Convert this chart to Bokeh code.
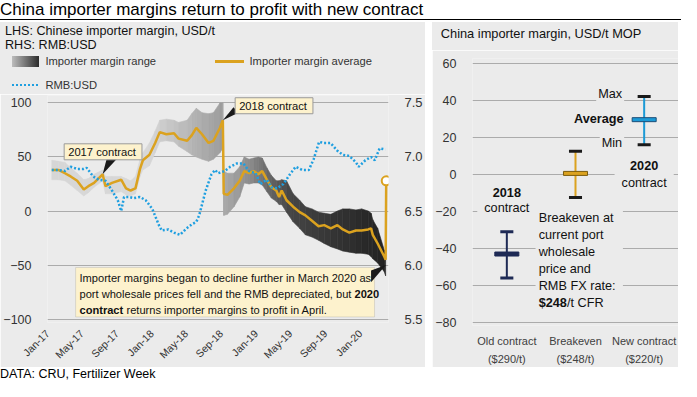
import math
import numpy as np
import pandas as pd
from bokeh.plotting import figure
from bokeh.layouts import row, column
from bokeh.models import (Range1d, LinearAxis, FixedTicker, DatetimeTickFormatter, Label, Div,
                          PolyAnnotation, BoxAnnotation, FactorRange, PrintfTickFormatter, Spacer)
from bokeh.embed import file_html
from bokeh.resources import INLINE

# ---------------- data: left chart ----------------
avg_dates = ["2017-01-16", "2017-02-08", "2017-03-03", "2017-03-23", "2017-04-15", "2017-05-08",
             "2017-05-24", "2017-06-13", "2017-07-13", "2017-07-23", "2017-08-15", "2017-09-16",
             "2017-10-03", "2017-10-19", "2017-11-05", "2017-11-21", "2017-12-01", "2017-12-24",
             "2018-01-13", "2018-01-29", "2018-02-21", "2018-03-20", "2018-04-05", "2018-05-05",
             "2018-05-21", "2018-06-06", "2018-06-26", "2018-07-19", "2018-08-05", "2018-08-28",
             "2018-09-07", "2018-09-10", "2018-09-23", "2018-10-16", "2018-11-05", "2018-11-21",
             "2018-12-08", "2018-12-24",
             "2019-01-09", "2019-01-23", "2019-02-08", "2019-02-24", "2019-03-13", "2019-03-23",
             "2019-04-01", "2019-04-18", "2019-05-11", "2019-06-03", "2019-06-23", "2019-07-16",
             "2019-08-08", "2019-08-28", "2019-09-20", "2019-10-13", "2019-11-01", "2019-11-24",
             "2019-12-17",
             "2020-01-06", "2020-01-29", "2020-02-08", "2020-02-14", "2020-03-02", "2020-03-25",
             "2020-03-30"]
avg_vals = [38, 38, 35, 32, 28, 20, 23, 26, 34, 23, 26, 29, 21, 19, 21, 39, 47, 52,
            63, 73, 71, 72, 67, 65, 70, 77, 71, 63, 65, 77, 84, 16, 15, 21, 28, 37, 35, 37,
            34, 37, 29, 22, 19, 13, 19, 10, 4, -1, -4, -9, -14, -13, -16, -13, -17, -20, -18,
            -18, -17, -16, -22, -30, -42, -45]
range_lo = [29, 29, 28, 24, 19, 14, 17, 22, 28, 16, 16, 18, 15, 14, 16, 32, 38, 42,
            54, 64, 65, 64, 60, 55, 52, 50, 48, 46, 48, 54, 58, -4, -3, 4, 13, 26, 25, 26,
            26, 24, 18, 12, 9, 6, 6, -1, -10, -16, -22, -24, -27, -30, -33, -35, -37, -38, -39,
            -39, -40, -42, -44, -48, -56, -60]
range_hi = [47, 46, 45, 40, 35, 29, 30, 34, 38, 32, 32, 32, 30, 28, 32, 48, 54, 63,
            74, 84, 85, 84, 82, 84, 90, 95, 91, 90, 91, 100, 100, 37, 35, 35, 41, 50, 48, 49,
            50, 49, 40, 33, 28, 28, 29, 28, 16, 10, 4, 2, -1, -2, -3, 0, 2, 2, 1,
            2, 0, -2, -8, -16, -36, -40]
apr_date = "2020-04-01"
apr_val = 28

rmb_dates = ["2017-01-16", "2017-02-08", "2017-03-03", "2017-03-23", "2017-04-15", "2017-05-08",
             "2017-05-18", "2017-06-10", "2017-06-29", "2017-07-23", "2017-08-15", "2017-09-04",
             "2017-09-16", "2017-09-26", "2017-10-13", "2017-10-29", "2017-11-21", "2017-12-11",
             "2018-01-03", "2018-01-26", "2018-02-05", "2018-02-28", "2018-03-20", "2018-04-10",
             "2018-05-03", "2018-05-23", "2018-06-06", "2018-06-16", "2018-07-09", "2018-07-29",
             "2018-08-11", "2018-08-21", "2018-09-13", "2018-10-03", "2018-10-26", "2018-11-18",
             "2018-12-08", "2018-12-31",
             "2019-01-16", "2019-02-08", "2019-02-24", "2019-03-15", "2019-04-07", "2019-04-30",
             "2019-05-20", "2019-06-12", "2019-07-05", "2019-07-22", "2019-08-10", "2019-08-27",
             "2019-09-19", "2019-10-12", "2019-11-01", "2019-11-24", "2019-12-17", "2019-12-27",
             "2020-01-19", "2020-02-08", "2020-02-21", "2020-03-09", "2020-03-29"]
rmb_vals = [6.88, 6.88, 6.87, 6.91, 6.89, 6.89, 6.90, 6.82, 6.79, 6.78, 6.69, 6.60,
            6.50, 6.63, 6.63, 6.62, 6.63, 6.60,
            6.52, 6.37, 6.32, 6.33, 6.30, 6.28, 6.34, 6.38, 6.40, 6.46, 6.69, 6.84,
            6.88, 6.85, 6.87, 6.91, 6.94, 6.94, 6.87, 6.85,
            6.75, 6.79, 6.72, 6.71, 6.75, 6.84, 6.91, 6.88, 6.88, 6.98, 7.14, 7.13,
            7.13, 7.06, 7.02, 7.01, 6.95, 6.91,
            6.97, 7.00, 6.97, 7.08, 7.07]

x_tick_dates = ["2017-01-01", "2017-05-01", "2017-09-01", "2018-01-01", "2018-05-01",
                "2018-09-01", "2019-01-01", "2019-05-01", "2019-09-01", "2020-01-01"]
left_ticks = [-100, -50, 0, 50, 100]
right_ticks = [5.5, 6.0, 6.5, 7.0, 7.5]

# ---------------- data: right chart ----------------
cats = ["Old contract", "Breakeven", "New contract"]
cat_prices = ["($290/t)", "($248/t)", "($220/t)"]
mins = [-56, -12.5, 16]
avgs = [-43, 0.5, 29.5]
maxs = [-31, 12.5, 42]
r_ticks = [-80, -60, -40, -20, 0, 20, 40, 60]

# ---------------- styles ----------------
FONT = "Liberation Sans"
BG = "#ebebeb"
GRID = "#ababab"
GOLD = "#dba21f"
BLUE = "#1f9fe0"
NAVY = "#1e2a55"
NEWBLUE = "#1c9ad6"
TXT = "#111111"
TICK = "#333333"
CALLOUT = "#fdf2cd"
CALLOUT_LINE = "#9a9a9a"
BLACK = "#1a1a1a"


def ms(d):
    return pd.Timestamp(d).value / 1e6


def grey(g):
    g = int(round(g))
    return "#%02x%02x%02x" % (g, g, g)


BAND_STOPS = [("2017-01-01", 214), ("2017-12-20", 216), ("2018-09-08", 156), ("2018-09-09", 172),
              ("2018-12-15", 138), ("2019-02-20", 100), ("2019-05-01", 70), ("2019-10-01", 52),
              ("2020-04-01", 34)]
stop_t = [ms(d) for d, _ in BAND_STOPS]
stop_g = [g for _, g in BAND_STOPS]

# ---------------- geometry (page px) ----------------
W = 681
HEAD_H = 22
L_W = 425
GAP = 7
R_W = 246
P_TOP = 94
LEG_H = P_TOP - HEAD_H      # legend strip of the left panel
PANEL_BOTTOM = 367
FOOT_H = 381 - PANEL_BOTTOM
LF_L, LF_R, LF_T, LF_B = 40, 392, 95, 327
L_PXU = 1.105
T0, T1 = ms("2017-01-01"), ms("2020-04-09")
R_TOP = 50
RT_H = R_TOP - HEAD_H       # right panel title strip
RF_L, RF_R, RF_T, RF_B = 31, 246, 58, 328
R_PXU = 1.874


def v_at(py):
    return 100 - (py - 102.6) / L_PXU


def X(px):
    return T0 + (px - LF_L) * (T1 - T0) / (LF_R - LF_L)


def yr_at(py):
    return 60 - (py - 62.7) / R_PXU


def css_text(left, center_y, text, size, color=TXT, bold=False):
    lh = round(size * 1.1)
    top = center_y - lh / 2
    return ('<div style="position:absolute;left:%.1fpx;top:%.1fpx;font-family:\'%s\';'
            'font-size:%.1fpx;line-height:%dpx;white-space:nowrap;color:%s;font-weight:%s;">%s</div>'
            % (left, top, FONT, size, lh, color, "bold" if bold else "normal", text))


def css_box(left, top, width, height, style):
    return ('<div style="position:absolute;left:%.1fpx;top:%.1fpx;width:%.1fpx;height:%.1fpx;%s"></div>'
            % (left, top, width, height, style))


def div(width, height, bg, inner):
    html = ('<div style="position:relative;width:%dpx;height:%dpx;background:%s;overflow:hidden;">%s</div>'
            % (width, height, bg, inner))
    return Div(text=html, width=width, height=height, margin=0,
               styles={"overflow": "hidden", "background-color": bg})


def label(fig, x, y, text, size, color=TXT, bold=False, align="left", baseline="middle", **kw):
    fig.add_layout(Label(x=x, y=y, text=text, text_font=FONT, text_font_size=size,
                         text_color=color, text_align=align, text_baseline=baseline,
                         text_font_style="bold" if bold else "normal", **kw))


# ================= header =================
header = div(W, HEAD_H, "white",
             '<div style="position:absolute;left:0px;top:0px;font-family:\'%s\';font-size:17px;'
             'line-height:19px;white-space:nowrap;color:#000;">China importer margins return to '
             'profit with new contract</div>' % FONT
             + css_box(0, 19, W, 1, "background:#000;"))

# ================= left legend strip =================
o = HEAD_H
leg_inner = (css_text(5, 31 - o, "LHS: Chinese importer margin, USD/t", 12.6)
             + css_text(5, 45 - o, "RHS: RMB:USD", 12.6)
             + css_box(11.8, 56 - o, 27.6, 10.6,
                       "background:linear-gradient(to right,#bdbdbd,#2c2c2c);")
             + css_text(45.4, 61.3 - o, "Importer margin range", 11.2, color="#333")
             + css_box(215, 59.8 - o, 28.5, 3, "background:%s;" % GOLD)
             + css_text(249.5, 61.3 - o, "Importer margin average", 11.2, color="#333")
             + css_box(11.8, 83.6 - o, 28, 2.5,
                       "background-image:linear-gradient(to right,%s 50%%,transparent 50%%);"
                       "background-size:4px 2.5px;" % BLUE)
             + css_text(45.4, 84.8 - o, "RMB:USD", 11.2, color="#333"))
leg = div(L_W, LEG_H, BG, leg_inner)

# ================= left chart =================
P_H = PANEL_BOTTOM - P_TOP
p = figure(width=L_W, height=P_H, x_axis_type="datetime", x_range=Range1d(T0, T1),
           y_range=Range1d(v_at(LF_B), v_at(LF_T)), output_backend="svg", toolbar_location=None,
           min_border_left=LF_L, min_border_right=L_W - LF_R, min_border_top=LF_T - P_TOP,
           min_border_bottom=PANEL_BOTTOM - LF_B, background_fill_color=BG,
           border_fill_color=BG, outline_line_color=None)
p.extra_y_ranges = {"rmb": Range1d(6.5 + v_at(LF_B) / 100, 6.5 + v_at(LF_T) / 100)}
p.add_layout(LinearAxis(y_range_name="rmb"), "right")

p.yaxis[0].ticker = FixedTicker(ticks=left_ticks)
p.yaxis[1].ticker = FixedTicker(ticks=right_ticks)
p.yaxis[1].formatter = PrintfTickFormatter(format="%.1f")
for ax in p.yaxis:
    ax.axis_line_color = None
    ax.major_tick_line_color = None
    ax.minor_tick_line_color = None
    ax.major_label_text_font = FONT
    ax.major_label_text_font_size = "12.5px"
    ax.major_label_text_color = TICK
    ax.major_label_standoff = 10
p.yaxis[1].major_label_text_font_size = "13px"

xa = p.xaxis[0]
xa.ticker = FixedTicker(ticks=[ms(d) for d in x_tick_dates])
fmt = "%b-%y"
xa.formatter = DatetimeTickFormatter(microseconds=fmt, milliseconds=fmt, seconds=fmt, minsec=fmt,
                                     minutes=fmt, hourmin=fmt, hours=fmt, days=fmt,
                                     months=fmt, years=fmt)
xa.major_label_orientation = math.pi / 4
xa.axis_line_color = None
xa.major_tick_line_color = None
xa.minor_tick_line_color = None
xa.major_label_text_font = FONT
xa.major_label_text_font_size = "10.5px"
xa.major_label_text_color = TICK
xa.major_label_standoff = 3
p.xgrid.visible = False
p.ygrid.grid_line_color = GRID
p.ygrid.grid_line_width = 1

# range band: gradient of quads between consecutive observations
t = [ms(d) for d in avg_dates]
band_xs, band_ys, band_c = [], [], []
for i in range(len(t) - 1):
    band_xs.append([t[i], t[i + 1], t[i + 1], t[i]])
    band_ys.append([range_lo[i], range_lo[i + 1], range_hi[i + 1], range_hi[i]])
    band_c.append(grey(np.interp((t[i] + t[i + 1]) / 2, stop_t, stop_g)))
p.patches(band_xs, band_ys, fill_color=band_c, line_color=band_c, line_width=0.6)

p.line(pd.to_datetime(avg_dates + [apr_date]), avg_vals + [apr_val], line_color=GOLD,
       line_width=2.5)
p.line(pd.to_datetime(rmb_dates), rmb_vals, y_range_name="rmb", line_color=BLUE,
       line_width=2.5, line_dash="2 2")
p.scatter(pd.to_datetime([apr_date]), [apr_val], size=9, marker="circle",
          fill_color="white", line_color=GOLD, line_width=2)

# callout: 2017 contract
i17 = avg_dates.index("2017-07-13")
p.add_layout(PolyAnnotation(xs=[X(101.6), X(113.4), ms(avg_dates[i17])],
                            ys=[50, 50, avg_vals[i17]], fill_color=BLACK, fill_alpha=1,
                            line_color=None))
label(p, X(57.2), 54.8, "2017 contract", "11.2px", background_fill_color=CALLOUT,
      border_line_color=CALLOUT_LINE, padding=dict(left=4, right=6, top=2, bottom=2))
# callout: 2018 contract
i18 = avg_dates.index("2018-09-07")
p.add_layout(PolyAnnotation(xs=[X(232), X(237), ms(avg_dates[i18])],
                            ys=[96, 91, avg_vals[i18]], fill_color=BLACK, fill_alpha=1,
                            line_color=None))
label(p, X(233.7), 97.4, "2018 contract", "11.2px", background_fill_color=CALLOUT,
      border_line_color=CALLOUT_LINE, padding=dict(left=4, right=6, top=2, bottom=2))
# callout: 2020
BOX_TOP_PX = 270.8
p.add_layout(BoxAnnotation(left=X(69), right=X(377.6), top=v_at(BOX_TOP_PX), bottom=v_at(321.3),
                           fill_color=CALLOUT, fill_alpha=1, line_color=CALLOUT_LINE))
p.add_layout(PolyAnnotation(xs=[X(374), X(374), ms("2020-03-31")],
                            ys=[v_at(BOX_TOP_PX + 3), v_at(BOX_TOP_PX + 15), -50],
                            fill_color=BLACK, fill_alpha=1, line_color=None))
CFS = "11.1px"
for txt, py, dx, bold in [
        ("Importer margins began to decline further in March 2020 as", 281.4, 0, False),
        ("port wholesale prices fell and the RMB depreciated, but", 297.7, 0, False),
        ("2020", 297.7, 275, True),
        ("contract", 314.2, 0, True),
        ("returns importer margins to profit in April.", 314.2, 47, False)]:
    label(p, X(73), v_at(py), txt, CFS, bold=bold, x_offset=dx)

# ================= footer =================
footer = div(L_W, FOOT_H, "white",
             css_text(0, 373.6 - PANEL_BOTTOM, "DATA: CRU, Fertilizer Week", 12.5, color="#000"))

# ================= right panel =================
rtitle = div(R_W, RT_H, BG, css_text(8.8, 34 - HEAD_H, "China importer margin, USD/t MOP", 12.8))

factors = list(zip(cat_prices, cats))
R_H = PANEL_BOTTOM - R_TOP
rp = figure(width=R_W, height=R_H,
            x_range=FactorRange(*factors, group_padding=0, factor_padding=0),
            y_range=Range1d(yr_at(RF_B), yr_at(RF_T)), output_backend="svg",
            toolbar_location=None, min_border_left=RF_L, min_border_right=R_W - RF_R,
            min_border_top=RF_T - R_TOP, min_border_bottom=PANEL_BOTTOM - RF_B,
            background_fill_color=BG, border_fill_color=BG, outline_line_color=None)
rp.xgrid.visible = False
rp.ygrid.grid_line_color = GRID
ry = rp.yaxis[0]
ry.ticker = FixedTicker(ticks=r_ticks)
ry.axis_line_color = None
ry.major_tick_line_color = None
ry.minor_tick_line_color = None
ry.major_label_text_font = FONT
ry.major_label_text_font_size = "12.5px"
ry.major_label_text_color = TICK
ry.major_label_standoff = 10
rx = rp.xaxis[0]
rx.axis_line_color = None
rx.major_tick_line_color = None
rx.minor_tick_line_color = None
rx.separator_line_color = None
rx.major_label_text_font = FONT
rx.major_label_text_font_size = "11px"
rx.major_label_text_color = "#404040"
rx.major_label_standoff = 3
rx.group_text_font = FONT
rx.group_text_font_size = "11px"
rx.group_text_color = "#404040"
rx.group_text_font_style = "normal"

whisk_c = [NAVY, GOLD, NEWBLUE]
cap_c = [NAVY, BLACK, BLACK]
avg_line = [NAVY, "#7a5c0f", "#1d4f78"]
rp.segment(x0=factors, y0=mins, x1=factors, y1=maxs, line_color=whisk_c, line_width=2)
rp.rect(x=factors + factors, y=mins + maxs, width=0.19, height=3, height_units="screen",
        fill_color=cap_c + cap_c, line_color=None)
rp.rect(x=factors, y=avgs, width=0.35, height=4, height_units="screen",
        fill_color=whisk_c, line_color=avg_line, line_width=1)

RFS = "12.7px"
for txt, yv, dx, dy, bold in [("Max", maxs[2], -20, 3, False),
                              ("Average", avgs[2], -18.6, 1, True),
                              ("Min", mins[2], -20, 2, False)]:
    label(rp, 2.5, yv, txt, RFS, bold=bold, align="right", x_offset=dx, y_offset=dy,
          background_fill_color=BG, padding=2)
for txt, dy, bold in [("2020", 9.1, True), ("contract", -9.1, False)]:
    label(rp, 2.5, 0, txt, RFS, bold=bold, align="center", y_offset=dy,
          background_fill_color=BG, padding=dict(left=7, right=7, top=3, bottom=3))
for txt, dy, bold in [("2018", 39.6, True), ("contract", 23.3, False)]:
    label(rp, 0.5, maxs[0], txt, RFS, bold=bold, align="center", y_offset=dy,
          background_fill_color=BG, padding=dict(left=7, right=7, top=3, bottom=3))
# breakeven explanation block
PXC = (RF_R - RF_L) / 3.0
rp.add_layout(BoxAnnotation(left=1.5 - 41.7 / PXC, right=1.5 + 49.5 / PXC,
                            top=mins[1] - 11.2 / R_PXU, bottom=mins[1] - 116 / R_PXU,
                            fill_color=BG, fill_alpha=1, line_color=None))
be_lines = ["Breakeven at", "current port", "wholesale", "price and", "RMB FX rate:"]
for k, txt in enumerate(be_lines):
    label(rp, 1.5, mins[1], txt, RFS, x_offset=-36.8, y_offset=-20.9 - 16.9 * k)
label(rp, 1.5, mins[1], "$248", RFS, bold=True, x_offset=-36.8, y_offset=-20.9 - 16.9 * 5)
label(rp, 1.5, mins[1], "/t CFR", RFS, x_offset=-36.8 + 28.2, y_offset=-20.9 - 16.9 * 5)

left_col = column(leg, p, footer, spacing=0)
right_col = column(rtitle, rp, spacing=0)
layout = column(header, row(left_col, Spacer(width=GAP, height=10), right_col, spacing=0),
                spacing=0)
open("out.html", "w").write(file_html(layout, INLINE))
